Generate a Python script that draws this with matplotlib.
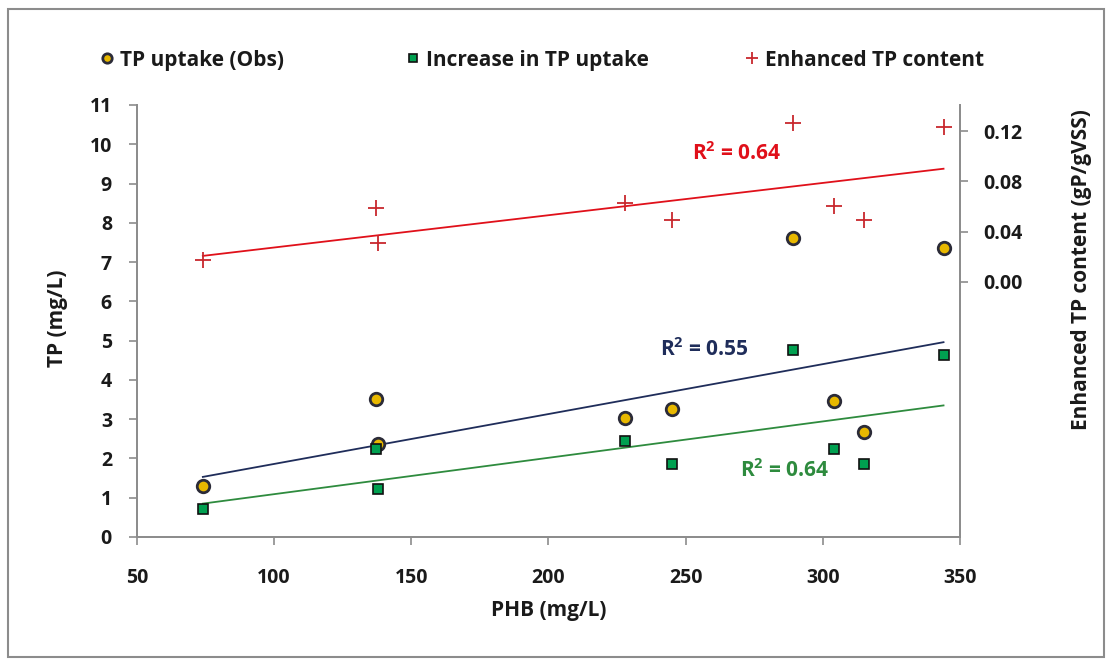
import numpy as np
import matplotlib.pyplot as plt
from matplotlib.patches import Rectangle

# data
phb = [74, 137, 138, 228, 245, 289, 304, 315, 344]
tp_obs = [1.30, 3.51, 2.37, 3.03, 3.26, 7.61, 3.46, 2.67, 7.35]
tp_increase = [0.71, 2.24, 1.22, 2.44, 1.86, 4.76, 2.24, 1.86, 4.63]
tp_enhanced = [0.0175, 0.059, 0.031, 0.063, 0.049, 0.126, 0.060, 0.049, 0.123]

# trend line end points (as drawn in the chart)
trend_x = [74, 344]
trend_obs = [1.53, 4.96]
trend_increase = [0.85, 3.35]
trend_enhanced = [0.0207, 0.090]

r2_labels = ['R$^2$ = 0.55', 'R$^2$ = 0.64', 'R$^2$ = 0.64']

plt.rcParams['font.family'] = ['Open Sans', 'DejaVu Sans']
plt.rcParams['font.weight'] = 'bold'
plt.rcParams['axes.labelweight'] = 'bold'
plt.rcParams['mathtext.default'] = 'regular'

fig = plt.figure(figsize=(11.12, 6.61), dpi=100)
ax = fig.add_axes([0.1232, 0.1876, 0.7401, 0.6536])
ax2 = ax.twinx()

spine_col = '#8c8c8c'
text_col = '#1a1a1a'
navy = '#1f2d5a'
green_line = '#2e8b3e'
red = '#e0101a'

# trend lines
ax.plot(trend_x, trend_obs, color=navy, lw=1.3, zorder=2)
ax.plot(trend_x, trend_increase, color=green_line, lw=1.3, zorder=2)
ax2.plot(trend_x, trend_enhanced, color=red, lw=1.3, zorder=2)

# markers
h1, = ax.plot(phb, tp_obs, 'o', ms=9, mfc='#e8b800', mec='#2b2b38', mew=2.0,
              ls='none', zorder=4, label='TP uptake (Obs)')
h2, = ax.plot(phb, tp_increase, 's', ms=7, mfc='#00a050', mec='#111111', mew=1.2,
              ls='none', zorder=5, label='Increase in TP uptake')
h3, = ax2.plot(phb, tp_enhanced, '+', ms=12, mec='#c8282d', mew=1.3,
               ls='none', zorder=4, label='Enhanced TP content')

# R2 annotations
ax.text(256.6, 4.76, r2_labels[0], color=navy, fontsize=15, ha='center', va='center')
ax.text(286.2, 1.70, r2_labels[1], color=green_line, fontsize=15, ha='center', va='center')
ax.text(268.7, 9.77, r2_labels[2], color=red, fontsize=15, ha='center', va='center')

# axes
ax.set_xlim(50, 350)
ax.set_ylim(0, 11)
ax.set_xticks(np.arange(50, 351, 50))
ax.set_yticks(np.arange(0, 12, 1))
ax2.set_ylim(-0.2028, 0.1407)
ax2.set_yticks([0.00, 0.04, 0.08, 0.12])
ax2.set_yticklabels(['0.00', '0.04', '0.08', '0.12'])

for a in (ax, ax2):
    a.spines['top'].set_visible(False)
    for s in ('left', 'right', 'bottom'):
        a.spines[s].set_color(spine_col)
        a.spines[s].set_linewidth(1.3)
    a.tick_params(direction='out', length=6, width=1.2, color=spine_col,
                  labelsize=14, labelcolor=text_col)
ax.tick_params(axis='x', pad=16)
ax.tick_params(axis='y', pad=12)
ax2.tick_params(axis='y', pad=11)

ax.set_xlabel('PHB (mg/L)', fontsize=15, color=text_col)
ax.set_ylabel('TP (mg/L)', fontsize=15, color=text_col)
ax2.set_ylabel('Enhanced TP content (gP/gVSS)', fontsize=15, color=text_col)
ax.xaxis.set_label_coords(0.5, -0.145)
ax.yaxis.set_label_coords(-0.084, 0.507)
ax2.yaxis.set_label_coords(1.135, 0.62)

# legend entries, placed one by one
legend_x = [0.089, 0.364, 0.669]
for h, lx in zip([h1, h2, h3], legend_x):
    fig.legend(handles=[h], loc='center left', bbox_to_anchor=(lx, 0.909),
               frameon=False, fontsize=15, handlelength=0.8, handletextpad=0.2,
               borderpad=0, borderaxespad=0, markerscale=0.75, labelcolor=text_col)

# outer border
fig.patches.append(Rectangle((0.007, 0.006), 0.986, 0.981, transform=fig.transFigure,
                             fill=False, ec='#8c8c8c', lw=1.5))

fig.savefig('out.png', dpi=100)
